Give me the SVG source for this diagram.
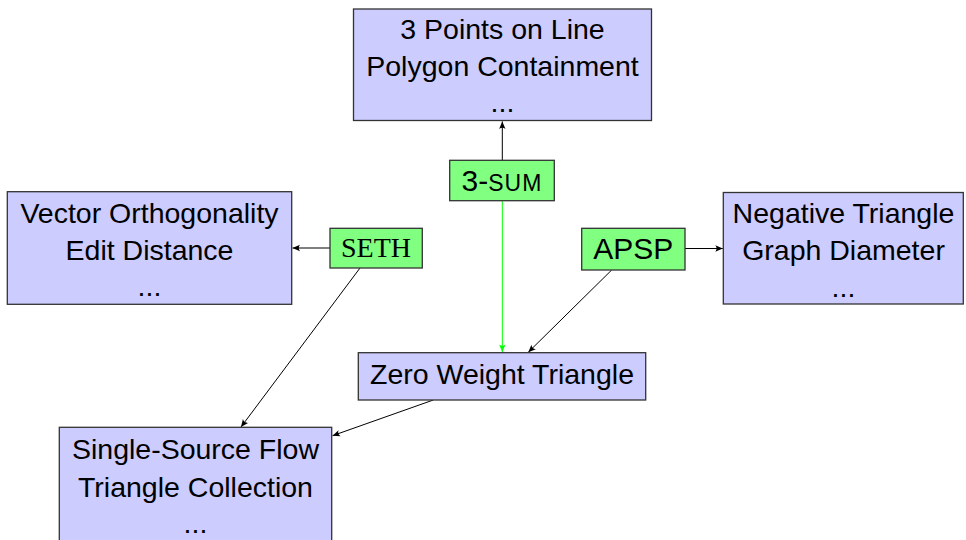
<svg xmlns="http://www.w3.org/2000/svg" width="966" height="540" viewBox="0 0 966 540">
<style>
.box{fill:#ccccff;stroke:#333;stroke-width:1.3}
.hyp{fill:#80ff80;stroke:#333;stroke-width:1.3}
.t{font-family:"Liberation Sans",Arial,sans-serif;font-size:28.5px;fill:#000;text-anchor:middle}
.s{font-family:"Liberation Serif","Times New Roman",serif;font-size:28px;fill:#000;text-anchor:middle}
.e{fill:none;stroke:#000;stroke-width:1}
.g{fill:none;stroke:#00ff00;stroke-width:1}
</style>
<defs>
<marker id="ah" viewBox="-8 -4 9 8" refX="0" refY="0" markerWidth="9" markerHeight="8" markerUnits="userSpaceOnUse" orient="auto">
<path d="M0,0 L-7.5,-3.2 Q-5,0 -7.5,3.2 Z" fill="#000"/>
</marker>
<marker id="ahg" viewBox="-8 -4 9 8" refX="0" refY="0" markerWidth="9" markerHeight="8" markerUnits="userSpaceOnUse" orient="auto">
<path d="M0,0 L-7.5,-3.2 Q-5,0 -7.5,3.2 Z" fill="#00ff00"/>
</marker>
</defs>
<g id="connectors">
<line class="e" x1="502.3" y1="160.3" x2="502.3" y2="121.5" marker-end="url(#ah)"/>
<line class="g" x1="502.3" y1="200.7" x2="502.3" y2="352" marker-end="url(#ahg)"/>
<line class="e" x1="330" y1="248" x2="292.5" y2="248" marker-end="url(#ah)"/>
<line class="e" x1="685" y1="248.5" x2="722.8" y2="248.5" marker-end="url(#ah)"/>
<line class="e" x1="360" y1="268" x2="241" y2="427" marker-end="url(#ah)"/>
<line class="e" x1="611.7" y1="270" x2="528.3" y2="352.2" marker-end="url(#ah)"/>
<line class="e" x1="433.3" y1="400" x2="332.5" y2="435.7" marker-end="url(#ah)"/>
</g>
<g id="top-problems">
<rect class="box" x="353.5" y="9" width="298" height="111.5"/>
<text class="t" x="502.5" y="39">3 Points on Line</text>
<text class="t" x="502.5" y="76">Polygon Containment</text>
<text class="t" x="502.5" y="112">...</text>
</g>
<g id="seth-problems">
<rect class="box" x="7.3" y="191.7" width="284.4" height="112.6"/>
<text class="t" x="149.5" y="222.5">Vector Orthogonality</text>
<text class="t" x="149.5" y="260">Edit Distance</text>
<text class="t" x="149.5" y="295.5">...</text>
</g>
<g id="apsp-problems">
<rect class="box" x="723.3" y="192.5" width="240" height="111.5"/>
<text class="t" x="843.5" y="223">Negative Triangle</text>
<text class="t" x="843.5" y="260">Graph Diameter</text>
<text class="t" x="843.5" y="296.5">...</text>
</g>
<g id="zero-weight-triangle">
<rect class="box" x="358.3" y="352.7" width="287.4" height="47.3"/>
<text class="t" x="502" y="384">Zero Weight Triangle</text>
</g>
<g id="flow-problems">
<rect class="box" x="59.3" y="427.3" width="272.4" height="120"/>
<text class="t" x="195.5" y="459">Single-Source Flow</text>
<text class="t" x="195.5" y="497">Triangle Collection</text>
<text class="t" x="195.5" y="532.5">...</text>
</g>
<g id="three-sum">
<rect class="hyp" x="449.7" y="160.3" width="104.6" height="40.4"/>
<text class="t" x="502" y="191" style="font-size:30px">3-<tspan style="font-size:23px" letter-spacing="1">SUM</tspan></text>
</g>
<g id="seth">
<rect class="hyp" x="330" y="228.3" width="92.3" height="39.7"/>
<text class="s" x="376" y="257.3">SETH</text>
</g>
<g id="apsp">
<rect class="hyp" x="581.7" y="228.3" width="103.3" height="41.7"/>
<text class="t" x="633.3" y="259.3" style="font-size:30px">APSP</text>
</g>
</svg>
